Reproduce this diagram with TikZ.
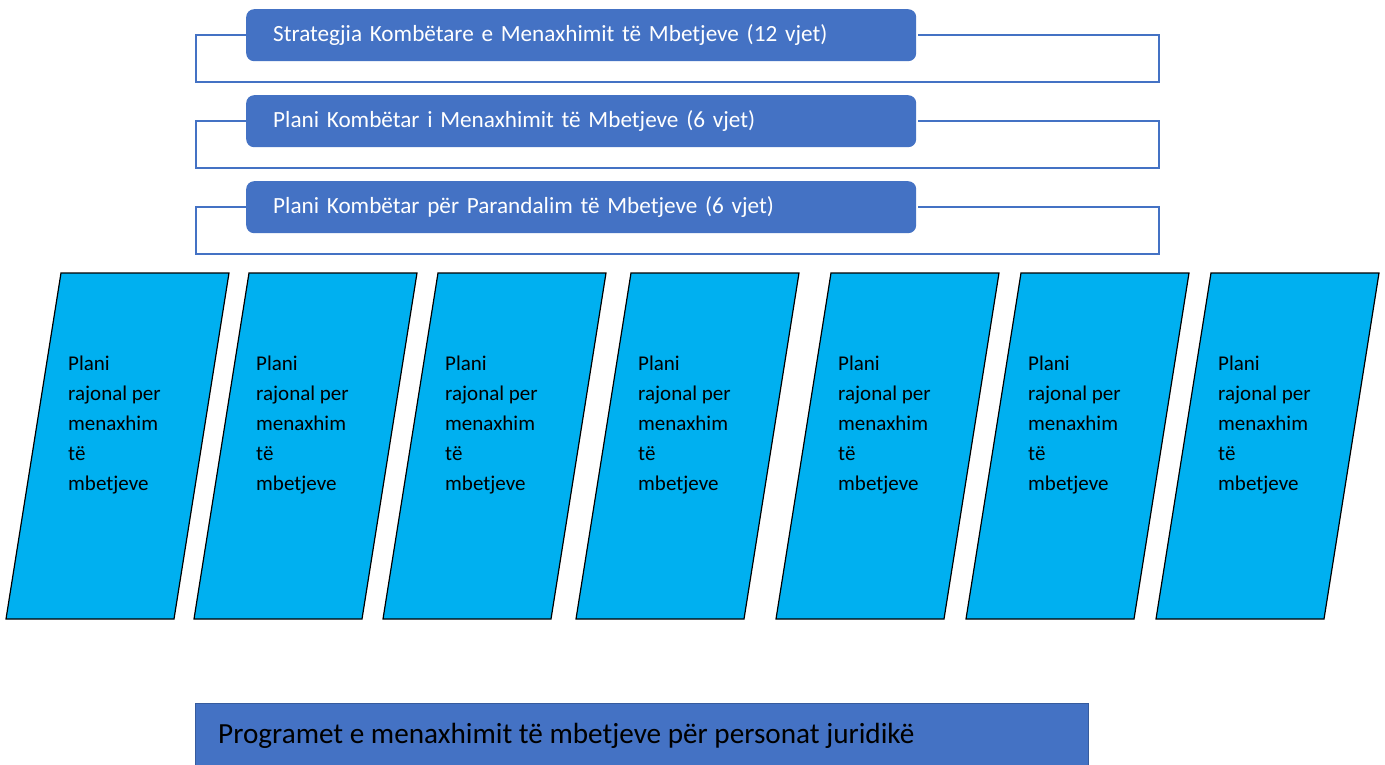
\documentclass[tikz,border=0pt]{standalone}
\usepackage{fontspec}
\setmainfont{Carlito}
\definecolor{boxblue}{HTML}{4472C4}
\definecolor{cyanfill}{HTML}{00B0F0}
\begin{document}
\begin{tikzpicture}[x=1pt,y=-1pt,
  topbox/.style={fill=boxblue, rounded corners=8pt, text=white, anchor=north west,
    inner xsep=27pt, inner ysep=0pt, text width=616pt, minimum height=52pt, align=left,
    font=\fontsize{23.2}{27}\selectfont},
  bracket/.style={draw=boxblue, line width=1.8pt},
  para/.style={fill=cyanfill, draw=black, line width=1.2pt, line join=miter},
  paratext/.style={anchor=base west, align=left, inner sep=0pt,
    font=\fontsize{21}{30}\selectfont},
  bottombox/.style={fill=boxblue, draw=boxblue!80!black, line width=0.8pt, anchor=north west,
    minimum width=893pt, minimum height=75pt, inner sep=0pt}
]
\useasboundingbox (0,0) rectangle (1385,764);
\fill[white] (0,0) rectangle (1385,764);

% top boxes
\node[topbox] (b1) at (246,9) {Strategjia Kombëtare e Menaxhimit të Mbetjeve (12 vjet)};
\node[topbox] (b2) at (246,95) {Plani Kombëtar i Menaxhimit të Mbetjeve (6 vjet)};
\node[topbox] (b3) at (246,181) {Plani Kombëtar për Parandalim të Mbetjeve (6 vjet)};

% brackets
\coordinate (l1) at (196,82);  \coordinate (r1) at (1159,82);
\coordinate (l2) at (196,168); \coordinate (r2) at (1159,168);
\coordinate (l3) at (196,254); \coordinate (r3) at (1159,254);
\draw[bracket] (b1.west) -| (l1) -- (r1) |- ([xshift=2pt]b1.east);
\draw[bracket] (b2.west) -| (l2) -- (r2) |- ([xshift=2pt]b2.east);
\draw[bracket] (b3.west) -| (l3) -- (r3) |- ([xshift=2pt]b3.east);

% parallelograms
\foreach \tl/\n in {61/1,249/2,438/3,631/4,831/5,1021/6,1211/7}{
  \draw[para] (\tl,273) -- (\tl+168,273) -- (\tl+113,619) -- (\tl-55,619) -- cycle;
  \node[paratext] (p\n) at (\tl+7,490) {Plani\\rajonal per\\menaxhim\\të\\mbetjeve};
}

% bottom box
\node[bottombox] (bb) at (195,703) {};
\node[anchor=base west, inner sep=0pt, font=\fontsize{29.2}{32}\selectfont] (bt) at (218,743)
  {Programet e menaxhimit të mbetjeve për personat juridikë};
\end{tikzpicture}
\end{document}
